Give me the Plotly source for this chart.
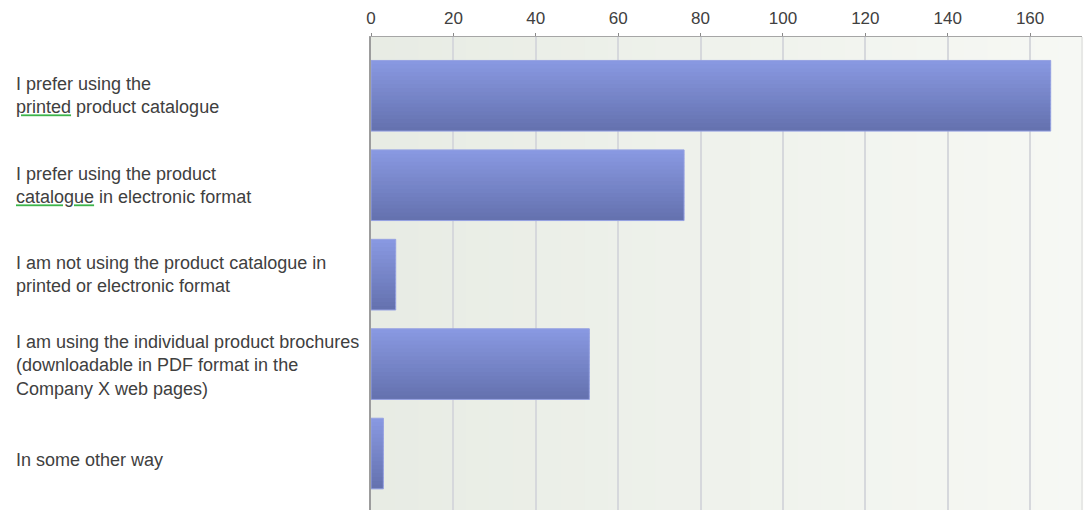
import plotly.graph_objects as go

# Survey answers, top to bottom
categories = [
    "I prefer using the<br>printed product catalogue",
    "I prefer using the product<br>catalogue in electronic format",
    "I am not using the product catalogue in<br>printed or electronic format",
    "I am using the individual product brochures<br>(downloadable in PDF format in the<br>Company X web pages)",
    "In some other way",
]
responses = [165, 76, 6, 53, 3]
x_ticks = [0, 20, 40, 60, 80, 100, 120, 140, 160]

# Words carrying a spell-check squiggle in the labels
flagged_words = {0: "printed", 1: "catalogue"}

TEXT = "#404040"
SQUIGGLE = "#3cb44a"
FONT = "Liberation Sans, Arial, sans-serif"
BAR_TOP = (0x88, 0x98, 0xE1)
BAR_BOTTOM = (0x65, 0x72, 0xAF)
BG_LEFT = (0xE8, 0xEC, 0xE4)
BG_RIGHT = (0xF6, 0xF8, 0xF4)
BAR_SPAN = 0.79
N_SLICES = 18
PLOT_LEFT, PLOT_RIGHT = 371, 1082
X_MAX = 172.6


def mix(c1, c2, t):
    return "rgb({},{},{})".format(*[round(a + (b - a) * t) for a, b in zip(c1, c2)])


fig = go.Figure()

# Vertical shading of the bars: stacked thin slices of the same bar
step = BAR_SPAN / N_SLICES
for i in range(N_SLICES):
    w = step if i == N_SLICES - 1 else step * 1.35
    fig.add_trace(go.Bar(
        x=responses,
        y=categories,
        orientation="h",
        width=w,
        offset=-BAR_SPAN / 2 + i * step,
        marker=dict(color=mix(BAR_TOP, BAR_BOTTOM, i / (N_SLICES - 1)), line=dict(width=0)),
        hoverinfo="skip",
        showlegend=False,
    ))

# Thin light rim around each bar
fig.add_trace(go.Bar(
    x=responses,
    y=categories,
    orientation="h",
    width=BAR_SPAN,
    marker=dict(color="rgba(0,0,0,0)", line=dict(color="#96a2e2", width=1)),
    hovertemplate="%{x}<extra></extra>",
    showlegend=False,
))

# Plot background: soft left-to-right gradient
n_strips = 30
shapes = []
for i in range(n_strips):
    shapes.append(dict(
        type="rect", xref="paper", yref="paper",
        x0=i / n_strips, x1=(i + 1.05) / n_strips, y0=0, y1=1,
        fillcolor=mix(BG_LEFT, BG_RIGHT, i / (n_strips - 1)),
        line=dict(width=0), layer="below",
    ))
shapes.append(dict(
    type="line", xref="paper", yref="paper", x0=1, x1=1, y0=0, y1=1,
    line=dict(color="#d8d8d8", width=1), layer="above",
))

# Left-aligned category labels
label_x = (14 - PLOT_LEFT) / (PLOT_RIGHT - PLOT_LEFT)
label_shift = [0, 0, 0, -1, -6]
annotations = []
for idx, label in enumerate(categories):
    text = label
    if idx in flagged_words:
        w = flagged_words[idx]
        text = text.replace(
            w,
            "<span style='text-decoration-line:underline;text-decoration-style:wavy;"
            "text-decoration-color:" + SQUIGGLE + ";fill:" + SQUIGGLE + "'>"
            "<span style='fill:" + TEXT + "'>" + w + "</span></span>",
            1,
        )
    annotations.append(dict(
        x=label_x, xref="paper", y=idx, yref="y",
        text=text, showarrow=False,
        xanchor="left", yanchor="middle", align="left",
        yshift=label_shift[idx],
        font=dict(family=FONT, size=18, color=TEXT),
    ))

fig.update_layout(
    width=1084,
    height=510,
    margin=dict(l=PLOT_LEFT, r=1084 - PLOT_RIGHT, t=37, b=0),
    paper_bgcolor="white",
    plot_bgcolor="#eef1ea",
    barmode="overlay",
    shapes=shapes,
    annotations=annotations,
    xaxis=dict(
        side="top",
        range=[0, X_MAX],
        tickvals=x_ticks,
        ticktext=[str(v) for v in x_ticks],
        tickfont=dict(family=FONT, size=17, color=TEXT),
        ticks="outside", ticklen=3, tickcolor="#8a8a8a", tickwidth=1,
        showline=True, linecolor="#a6a6a6", linewidth=1,
        showgrid=True, gridcolor="#d6d8dc", gridwidth=1.5,
        zeroline=False,
        ticklabelstandoff=2,
    ),
    yaxis=dict(
        type="category",
        categoryorder="array",
        categoryarray=categories,
        range=[4.631, -0.657],
        showticklabels=False,
        ticks="",
        showline=True, linecolor="#9c9c9c", linewidth=2,
        showgrid=False, zeroline=False,
    ),
)

fig.write_html("out.html")
